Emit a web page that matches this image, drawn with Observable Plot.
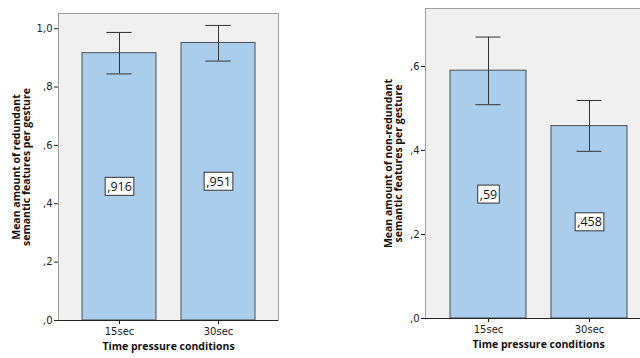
<!DOCTYPE html>
<html>
<head>
<meta charset="utf-8">
<script src="https://cdn.jsdelivr.net/npm/d3@7"></script>
<script src="https://cdn.jsdelivr.net/npm/@observablehq/plot@0.6"></script>
<style>
  html, body { margin: 0; padding: 0; background: #fff; overflow: hidden; }
  #wrap { position: relative; width: 640px; height: 358px; overflow: hidden; }
  #left, #right { position: absolute; top: 0; height: 358px; }
  #left { left: 0; width: 320px; }
  #right { left: 320px; width: 340px; }
  svg { max-width: none !important; }
</style>
</head>
<body>
<div id="wrap"><div id="left"></div><div id="right"></div></div>
<script>
const categories = ["15sec", "30sec"];
const redundantMeans = [0.916, 0.951];
const redundantUpper = [0.987, 1.011];
const redundantLower = [0.845, 0.889];
const nonRedundantMeans = [0.59, 0.458];
const nonRedundantUpper = [0.670, 0.519];
const nonRedundantLower = [0.509, 0.398];
const redundantLabels = [",916", ",951"];
const nonRedundantLabels = [",59", ",458"];
const leftTicks = [0, 0.2, 0.4, 0.6, 0.8, 1.0];
const rightTicks = [0, 0.2, 0.4, 0.6];
const leftYTitle = "Mean amount of redundant\nsemantic features per gesture";
const rightYTitle = "Mean amount of non-redundant\nsemantic features per gesture";
const xTitle = "Time pressure conditions";

const FONT = "DejaVu Sans, sans-serif";
const TITLE_FONT = "Open Sans, sans-serif";
const fmt = d => d >= 1 ? d3.format(".1f")(d).replace(".", ",") : "," + d3.format(".1f")(d).slice(2);

function build(cfg) {
  const rows = categories.map((c, i) => ({
    cat: c, mean: cfg.means[i], lo: cfg.lower[i], hi: cfg.upper[i], label: cfg.labels[i]
  }));
  const innerW = cfg.width - cfg.ml - cfg.mr;
  const step = innerW / (categories.length - cfg.pi + 2 * cfg.po);
  const bw = step * (1 - cfg.pi);
  const capInset = (bw - 25) / 2;
  return Plot.plot({
    width: cfg.width,
    height: 358,
    marginLeft: cfg.ml,
    marginRight: cfg.mr,
    marginTop: cfg.mt,
    marginBottom: cfg.mb,
    style: { fontFamily: FONT, fontSize: "10px", color: "#222", background: "transparent", maxWidth: "none" },
    x: { domain: categories, type: "band", paddingInner: cfg.pi, paddingOuter: cfg.po, label: null, tickSize: 4, tickPadding: 3 },
    y: { domain: cfg.domain, label: null, ticks: cfg.ticks, tickFormat: fmt, tickSize: 4, tickPadding: 2, line: true },
    marks: [
      Plot.frame({ fill: "#f0f0f0", stroke: "#a0a0a0" }),
      Plot.barY(rows, { x: "cat", y: "mean", fill: "#abcdec", stroke: "#4a4f55", strokeWidth: 1 }),
      Plot.ruleX(rows, { x: "cat", y1: "lo", y2: "hi", stroke: "#333", strokeWidth: 1 }),
      Plot.tickY(rows, { x: "cat", y: "hi", stroke: "#333", insetLeft: capInset, insetRight: capInset }),
      Plot.tickY(rows, { x: "cat", y: "lo", stroke: "#333", insetLeft: capInset, insetRight: capInset }),
      Plot.ruleY([0], { stroke: "#222" }),
      Plot.text(rows, { x: "cat", y: d => d.mean / 2, text: "label", fill: "#111", fontSize: 12.5, fontFamily: "Open Sans, sans-serif" }),
      Plot.text([cfg.yTitle], { text: d => d, frameAnchor: "left", textAnchor: "middle", lineAnchor: "middle", rotate: -90, dx: cfg.ytdx, fontWeight: "bold", fontSize: 10.5, fontFamily: TITLE_FONT, lineHeight: 1.0, fill: "#111" }),
      Plot.text([xTitle], { text: d => d, frameAnchor: "bottom", dy: 29, fontWeight: "bold", fontSize: 10.5, fontFamily: TITLE_FONT, fill: "#111" })
    ]
  });
}

function boxLabels(svg, labels) {
  svg.querySelectorAll("text").forEach(t => {
    if (!labels.includes(t.textContent)) return;
    const b = t.getBBox();
    const r = document.createElementNS("http://www.w3.org/2000/svg", "rect");
    r.setAttribute("x", b.x - 2);
    r.setAttribute("y", b.y - 0.5);
    r.setAttribute("width", b.width + 4);
    r.setAttribute("height", b.height + 1);
    r.setAttribute("fill", "#fff");
    r.setAttribute("stroke", "#333");
    r.setAttribute("stroke-width", 1);
    const tr = t.getAttribute("transform");
    if (tr) r.setAttribute("transform", tr);
    t.parentNode.insertBefore(r, t);
  });
}

const leftChart = build({
  width: 320, ml: 58, mr: 42, mt: 13, mb: 38, pi: 0.255, po: 0.237,
  domain: [0, 1.052], ticks: leftTicks,
  means: redundantMeans, upper: redundantUpper, lower: redundantLower, labels: redundantLabels,
  yTitle: leftYTitle, ytdx: -37
});
document.getElementById("left").appendChild(leftChart);
boxLabels(leftChart, redundantLabels);

const rightChart = build({
  width: 340, ml: 105, mr: 9, mt: 8, mb: 40, pi: 0.25, po: 0.239,
  domain: [0, 0.738], ticks: rightTicks,
  means: nonRedundantMeans, upper: nonRedundantUpper, lower: nonRedundantLower, labels: nonRedundantLabels,
  yTitle: rightYTitle, ytdx: -32
});
document.getElementById("right").appendChild(rightChart);
boxLabels(rightChart, nonRedundantLabels);
</script>
</body>
</html>
